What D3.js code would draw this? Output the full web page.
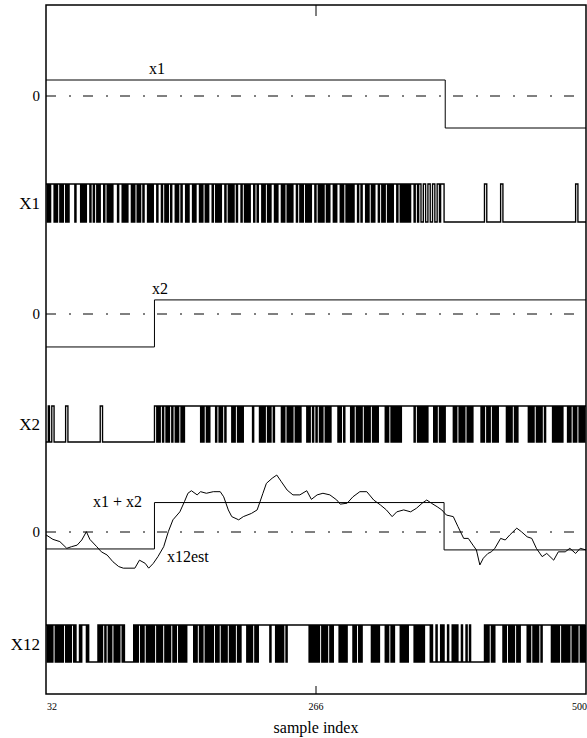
<!DOCTYPE html>
<html>
<head>
<meta charset="utf-8">
<script src="https://cdn.jsdelivr.net/npm/d3@7"></script>
<style>
	body { margin: 0; background: #fff; }
	svg text { font-family: "Liberation Serif", "Times New Roman", "DejaVu Serif", serif; fill: #000; }
</style>
</head>
<body>
<div id="chart"></div>
<script>
/**
 * Data (sample index on x, amplitude on y)
 */
let sampleDomain = [32, 500];
let tickSamples = [32, 266, 500];

let x1Breaks = [32, 378, 500];
let x1Levels = [0.5, -1.0];
let x2Breaks = [32, 126, 500];
let x2Levels = [-1.03, 0.44];
let x12Breaks = [32, 126, 377, 500];
let x12Levels = [-0.53, 0.92, -0.56];

let estSamples = [
	32, 38, 44, 50, 54, 59, 63, 67, 70, 76,
	80, 85, 90, 95, 99, 109, 113, 118, 121, 125,
	129, 134, 138, 142, 148, 152, 155, 158, 163, 166,
	171, 177, 183, 186, 190, 193, 199, 203, 210, 215,
	218, 220, 223, 228, 232, 236, 241, 246, 252, 258,
	262, 267, 272, 278, 284, 287, 293, 298, 304, 310,
	316, 322, 327, 332, 336, 342, 348, 353, 358, 362,
	366, 371, 375, 379, 385, 389, 394, 398, 402, 405,
	408, 411, 415, 418, 421, 426, 430, 434, 440, 444,
	449, 453, 457, 462, 466, 472, 476, 482, 486, 491,
	495, 500
];
let estValues = [
	-0.09, -0.23, -0.30, -0.51, -0.46, -0.41, -0.25, 0.01, -0.23, -0.46,
	-0.62, -0.72, -0.93, -1.08, -1.13, -1.13, -0.88, -0.98, -1.13, -0.98,
	-0.77, -0.46, 0.01, 0.38, 0.63, 0.95, 1.21, 1.29, 1.16, 1.26,
	1.21, 1.26, 1.26, 1.10, 0.69, 0.48, 0.38, 0.48, 0.58, 0.69,
	1.00, 1.21, 1.52, 1.68, 1.78, 1.57, 1.31, 1.16, 1.16, 1.29,
	1.02, 1.16, 1.21, 1.16, 1.00, 0.87, 0.90, 1.10, 1.26, 1.26,
	1.00, 0.84, 0.69, 0.48, 0.63, 0.69, 0.63, 0.74, 0.90, 1.00,
	0.90, 0.79, 0.69, 0.53, 0.48, 0.17, -0.20, -0.20, -0.41, -0.56,
	-1.03, -0.82, -0.67, -0.62, -0.51, -0.20, -0.25, -0.09, 0.12, 0.01,
	-0.15, -0.20, -0.51, -0.77, -0.67, -0.88, -0.62, -0.62, -0.51, -0.67,
	-0.51, -0.56
];

// bit streams, one character per sample from 32, in groups of ten
let X1Bits = [
	"1010111010", "1101011010", "1111101111", "0101011101", "1011010111",
	"0110101011", "1101110101", "0111010110", "1011011101", "0101110111",
	"0110101101", "1101011011", "1010111010", "1110101101", "0111011010",
	"1011101101", "0101101110", "1101010111", "0110111010", "1101011101",
	"0111010110", "1010111011", "0101101010", "1110110101", "0110101110",
	"1011101011", "0101010111", "0110111010", "1101011101", "1010110101",
	"0111011010", "1010101110", "1101100110", "0110011001", "1011100000",
	"0000000000", "0000000000", "0000000000", "1100000000", "0000110000",
	"0000000000", "0000000000", "0000000000", "0000000000", "0000000000",
	"0000000001", "100000000"
];
let X2Bits = [
	"0010011000", "0000000110", "0000000000", "0000000000", "0000000110",
	"0000000000", "0000000000", "0000000000", "0000000000", "0000110101",
	"1011010110", "1101011010", "1111111111", "1111010110", "1011111011",
	"0101101111", "1010110101", "0111111110", "1111101010", "1101011011",
	"1111010110", "1010110101", "0111110101", "1011011010", "1101010111",
	"1110101101", "1111010110", "1010110101", "0110101011", "1111010110",
	"1010101011", "1111111110", "1101010101", "0111110101", "1010101111",
	"1110101101", "0101101010", "1111111010", "1101011010", "1011111110",
	"1010110101", "1111111101", "0101101010", "1101111110", "1010101011",
	"1101011010", "110101011"
];
let X12Bits = [
	"1010101101", "0101011010", "1011010001", "0111101000", "0000010101",
	"1011010110", "1010110100", "0000001010", "1101011010", "1010110101",
	"0110101011", "0101101010", "1011111101", "0110101101", "0101011010",
	"1101010110", "1010110101", "1111010101", "1010111111", "1111011110",
	"1010101101", "1111111111", "1111111101", "0101010110", "1010110101",
	"1111010101", "0111110101", "1010111111", "1101010101", "1111010110",
	"1011111010", "1010111110", "1010101011", "1110100010", "0010100010",
	"0010101000", "1000100100", "0000000000", "1010110101", "1111110101",
	"1010101101", "0111111010", "1101010110", "1111111101", "0101011010",
	"1010110101", "011010101"
];

/**
 * Layout
 */
let width = 587;
let height = 738;
let frame = { left: 46, right: 586, top: 5, bottom: 694 };
let unit = 32; // pixels per amplitude unit
let serif = "'Liberation Serif', 'Times New Roman', 'DejaVu Serif', serif";

let svg = d3.select("#chart").append("svg")
	.attr("width", width)
	.attr("height", height)
	.attr("font-family", serif);

let x = d3.scaleLinear()
	.domain(sampleDomain)
	.range([frame.left, frame.right]);

svg.append("clipPath")
	.attr("id", "plot")
	.append("rect")
	.attr("x", frame.left)
	.attr("y", frame.top)
	.attr("width", frame.right - frame.left)
	.attr("height", frame.bottom - frame.top);

let plot = svg.append("g").attr("clip-path", "url(#plot)");

/**
 * Helpers
 */
function levelScale(zero) {
	return d3.scaleLinear().domain([-1, 1]).range([zero + unit, zero - unit]);
}

function stepPoints(breaks, levels) {
	let pts = levels.map(function(v, i) { return { s: breaks[i], v: v }; });
	pts.push({ s: breaks[breaks.length - 1], v: levels[levels.length - 1] });
	return pts;
}

function bitPoints(groups) {
	let bits = groups.join("").split("").map(Number);
	return bits.map(function(b, i) { return { s: sampleDomain[0] + i, v: b }; });
}

function drawStep(pts, y, w) {
	let line = d3.line()
		.x(function(d) { return x(d.s); })
		.y(function(d) { return y(d.v); })
		.curve(d3.curveStepAfter);
	plot.append("path")
		.attr("d", line(pts))
		.attr("fill", "none")
		.attr("stroke", "#000")
		.attr("stroke-width", w || 1);
}

function drawZero(y) {
	plot.append("line")
		.attr("x1", frame.left)
		.attr("x2", frame.right)
		.attr("y1", y(0))
		.attr("y2", y(0))
		.attr("stroke", "#000")
		.attr("stroke-width", 1)
		.attr("stroke-dasharray", "10,13,2,12");
	label(40, y(0) + 5, "0", 15, "end");
}

function label(tx, ty, txt, size, anchor) {
	svg.append("text")
		.attr("x", tx)
		.attr("y", ty)
		.attr("text-anchor", anchor || "start")
		.attr("font-family", serif)
		.attr("font-size", size)
		.text(txt);
}

/**
 * Analog panels
 */
let y1 = levelScale(96);
drawZero(y1);
drawStep(stepPoints(x1Breaks, x1Levels), y1);
label(157, 74, "x1", 16, "middle");

let y2 = levelScale(314);
drawZero(y2);
drawStep(stepPoints(x2Breaks, x2Levels), y2);
label(160, 294, "x2", 16, "middle");

let y12 = levelScale(532);
drawZero(y12);
drawStep(stepPoints(x12Breaks, x12Levels), y12);
label(93, 507, "x1 + x2", 16, "start");

let est = d3.line()
	.x(function(d, i) { return x(estSamples[i]); })
	.y(function(d) { return y12(d); });
plot.append("path")
	.attr("d", est(estValues))
	.attr("fill", "none")
	.attr("stroke", "#000")
	.attr("stroke-width", 1);
label(167, 562, "x12est", 16, "start");

/**
 * Bit streams
 */
let trains = [
	{ name: "X1", bits: X1Bits, top: 184, bottom: 222 },
	{ name: "X2", bits: X2Bits, top: 406, bottom: 442 },
	{ name: "X12", bits: X12Bits, top: 625, bottom: 662 }
];

trains.forEach(function(t) {
	let y = d3.scaleLinear().domain([0, 1]).range([t.bottom, t.top]);
	drawStep(bitPoints(t.bits), y, 1.35);
	label(40, (t.top + t.bottom) / 2 + 6, t.name, 17, "end");
});

/**
 * Frame and axis
 */
svg.append("rect")
	.attr("x", frame.left)
	.attr("y", frame.top)
	.attr("width", frame.right - frame.left)
	.attr("height", frame.bottom - frame.top)
	.attr("fill", "none")
	.attr("stroke", "#000")
	.attr("stroke-width", 1.5);

svg.append("line")
	.attr("x1", x(266)).attr("x2", x(266))
	.attr("y1", frame.top).attr("y2", frame.top + 11)
	.attr("stroke", "#000");
svg.append("line")
	.attr("x1", x(266)).attr("x2", x(266))
	.attr("y1", frame.bottom).attr("y2", frame.bottom - 8)
	.attr("stroke", "#000");

let last = tickSamples.length - 1;
svg.selectAll("text.tick")
	.data(tickSamples)
	.enter()
	.append("text")
	.attr("class", "tick")
	.attr("x", function(d, i) { return i === 0 ? x(d) + 1 : (i === last ? x(d) + 1 : x(d)); })
	.attr("y", 710)
	.attr("text-anchor", function(d, i) { return i === 0 ? "start" : (i === last ? "end" : "middle"); })
	.attr("font-family", serif)
	.attr("font-size", 10)
	.text(function(d) { return d; });

label(316, 733, "sample index", 16, "middle");
</script>
</body>
</html>
